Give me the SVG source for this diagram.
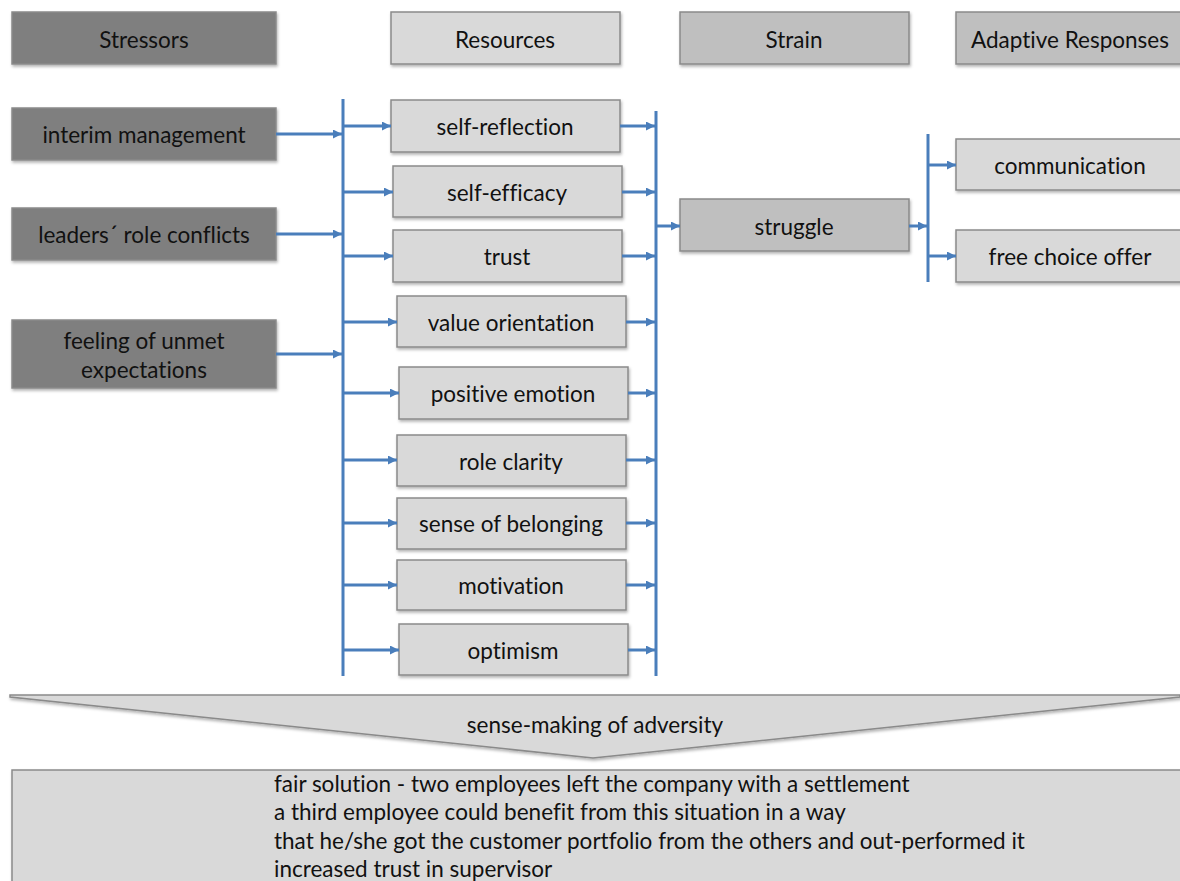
<svg xmlns="http://www.w3.org/2000/svg" width="1180" height="881" viewBox="0 0 1180 881">
  <style>
    text { font-family: Lato, "Open Sans", "Liberation Sans", sans-serif; font-size: 22.5px; fill: #111; font-variant-ligatures: none; font-feature-settings: "liga" 0, "clig" 0; }
    .c { text-anchor: middle; dominant-baseline: central; }
    .box { stroke: #8a8a8a; stroke-width: 1.5; filter: url(#sh); }
    .dark { fill: #7f7f7f; }
    .mid { fill: #bfbfbf; }
    .light { fill: #d9d9d9; }
    .bar { stroke: #4a7ebb; stroke-width: 3; fill: none; }
    .arr { stroke: #4a7ebb; stroke-width: 3; fill: none; marker-end: url(#ah); }
  </style>
  <defs>
    <filter id="sh" x="-5%" y="-10%" width="110%" height="130%">
      <feDropShadow dx="1" dy="2" stdDeviation="1.5" flood-color="#000" flood-opacity="0.3"/>
    </filter>
    <marker id="ah" viewBox="0 0 10 10" refX="10" refY="5" markerWidth="11" markerHeight="9" markerUnits="userSpaceOnUse" orient="auto">
      <path d="M0,0 L10,5 L0,10 z" fill="#4a7ebb"/>
    </marker>
  </defs>
  <rect width="1180" height="881" fill="#fff"/>

  <!-- column headers -->
  <g id="h-stressors"><rect class="box dark" x="12" y="12" width="264" height="52"/><text class="c" x="144" y="39">Stressors</text></g>
  <g id="h-resources"><rect class="box light" x="391" y="12" width="229" height="52"/><text class="c" x="505" y="39">Resources</text></g>
  <g id="h-strain"><rect class="box mid" x="680" y="12" width="229" height="52"/><text class="c" x="794" y="39">Strain</text></g>
  <g id="h-adaptive"><rect class="box mid" x="956" y="12" width="230" height="52"/><text class="c" x="1070" y="39">Adaptive Responses</text></g>

  <!-- stressors -->
  <g id="s-interim"><rect class="box dark" x="12" y="108" width="264" height="52"/><text class="c" x="144" y="134">interim management</text></g>
  <g id="s-role"><rect class="box dark" x="12" y="208" width="264" height="52"/><text class="c" x="144" y="234">leaders´ role conflicts</text></g>
  <g id="s-unmet"><rect class="box dark" x="12" y="320" width="264" height="68"/><text class="c" x="144" y="340">feeling of unmet</text><text class="c" x="144" y="369">expectations</text></g>

  <!-- resources -->
  <g id="r-reflection"><rect class="box light" x="391" y="100" width="229" height="52"/><text class="c" x="505" y="126">self-reflection</text></g>
  <g id="r-efficacy"><rect class="box light" x="393" y="166" width="229" height="51"/><text class="c" x="507" y="192">self-efficacy</text></g>
  <g id="r-trust"><rect class="box light" x="393" y="230" width="229" height="52"/><text class="c" x="507" y="256">trust</text></g>
  <g id="r-value"><rect class="box light" x="397" y="296" width="229" height="51"/><text class="c" x="511" y="322">value orientation</text></g>
  <g id="r-emotion"><rect class="box light" x="399" y="367" width="229" height="52"/><text class="c" x="513" y="393">positive emotion</text></g>
  <g id="r-clarity"><rect class="box light" x="397" y="435" width="229" height="51"/><text class="c" x="511" y="461">role clarity</text></g>
  <g id="r-belonging"><rect class="box light" x="397" y="498" width="229" height="51"/><text class="c" x="511" y="523">sense of belonging</text></g>
  <g id="r-motivation"><rect class="box light" x="397" y="560" width="229" height="50"/><text class="c" x="511" y="585">motivation</text></g>
  <g id="r-optimism"><rect class="box light" x="399" y="624" width="229" height="51"/><text class="c" x="513" y="650">optimism</text></g>

  <!-- strain -->
  <g id="t-struggle"><rect class="box mid" x="680" y="199" width="229" height="52"/><text class="c" x="794" y="226">struggle</text></g>

  <!-- adaptive responses -->
  <g id="a-communication"><rect class="box light" x="956" y="139" width="230" height="51"/><text class="c" x="1070" y="165">communication</text></g>
  <g id="a-freechoice"><rect class="box light" x="956" y="230" width="230" height="52"/><text class="c" x="1070" y="256">free choice offer</text></g>

  <!-- connectors -->
  <g id="connectors">
    <line class="bar" x1="343" y1="99" x2="343" y2="676"/>
    <line class="bar" x1="656" y1="111" x2="656" y2="676"/>
    <line class="bar" x1="928" y1="134" x2="928" y2="282"/>

    <line class="arr" x1="276" y1="134" x2="342" y2="134"/>
    <line class="arr" x1="276" y1="234" x2="342" y2="234"/>
    <line class="arr" x1="276" y1="354" x2="342" y2="354"/>

    <line class="arr" x1="344" y1="126" x2="391" y2="126"/>
    <line class="arr" x1="344" y1="192" x2="393" y2="192"/>
    <line class="arr" x1="344" y1="256" x2="393" y2="256"/>
    <line class="arr" x1="344" y1="322" x2="397" y2="322"/>
    <line class="arr" x1="344" y1="393" x2="399" y2="393"/>
    <line class="arr" x1="344" y1="460" x2="397" y2="460"/>
    <line class="arr" x1="344" y1="523" x2="397" y2="523"/>
    <line class="arr" x1="344" y1="585" x2="397" y2="585"/>
    <line class="arr" x1="344" y1="650" x2="399" y2="650"/>

    <line class="arr" x1="620" y1="126" x2="655" y2="126"/>
    <line class="arr" x1="622" y1="192" x2="655" y2="192"/>
    <line class="arr" x1="622" y1="256" x2="655" y2="256"/>
    <line class="arr" x1="626" y1="322" x2="655" y2="322"/>
    <line class="arr" x1="628" y1="393" x2="655" y2="393"/>
    <line class="arr" x1="626" y1="460" x2="655" y2="460"/>
    <line class="arr" x1="626" y1="523" x2="655" y2="523"/>
    <line class="arr" x1="626" y1="585" x2="655" y2="585"/>
    <line class="arr" x1="628" y1="650" x2="655" y2="650"/>

    <line class="arr" x1="657" y1="226" x2="680" y2="226"/>
    <line class="arr" x1="909" y1="226" x2="927" y2="226"/>
    <line class="arr" x1="929" y1="165" x2="956" y2="165"/>
    <line class="arr" x1="929" y1="256" x2="956" y2="256"/>
  </g>

  <!-- sense-making chevron -->
  <g id="sense-making">
    <polygon class="box light" points="10,695 1180,695 1180,697 593,758 10,697"/>
    <text class="c" x="595" y="724">sense-making of adversity</text>
  </g>

  <!-- outcome box -->
  <g id="outcome">
    <rect class="box light" x="12" y="770" width="1180" height="120"/>
    <text x="274" y="792">fair solution - two employees left the company with a settlement</text>
    <text x="274" y="820">a third employee could benefit from this situation in a way</text>
    <text x="274" y="849">that he/she got the customer portfolio from the others and out-performed it</text>
    <text x="274" y="877">increased trust in supervisor</text>
  </g>
</svg>
